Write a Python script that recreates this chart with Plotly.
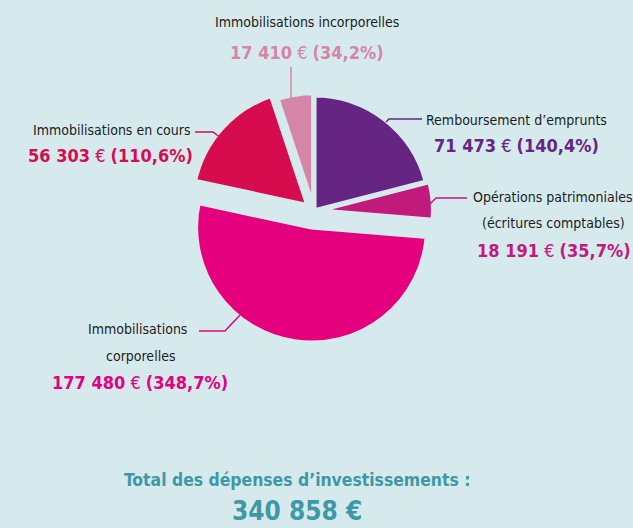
import plotly.graph_objects as go

# ---- data ----
categories = [
    "Remboursement d’emprunts",
    "Opérations patrimoniales (écritures comptables)",
    "Immobilisations corporelles",
    "Immobilisations en cours",
    "Immobilisations incorporelles",
]
values = [71473, 18191, 177480, 56303, 17410]
value_labels = ["71 473", "18 191", "177 480", "56 303", "17 410"]
pct_labels = ["140,4%", "35,7%", "348,7%", "110,6%", "34,2%"]
total_label = "340 858 €"
colors = ["#662483", "#c2197c", "#e5007e", "#d60c4f", "#d585a5"]
pulls = [0.0, 0.03, 0.14, 0.07, 0.02]

W, H = 633, 528
BG = "#d6eaee"
TXT = "#1d1d1b"
TEAL = "#3e98a6"
FONT = "DejaVu Sans Condensed, DejaVu Sans, sans-serif"
LBL = 14
VAL = 18


def px(x):
    return x / W


def py(y):
    return 1 - y / H


# pie geometry (pixels)
cx, cy, r = 314, 211, 116
half = r * (1 + max(pulls))

fig = go.Figure(
    go.Pie(
        labels=categories,
        values=values,
        sort=False,
        direction="clockwise",
        rotation=0,
        pull=pulls,
        marker=dict(colors=colors, line=dict(color=BG, width=5)),
        textinfo="none",
        hoverinfo="label+value",
        showlegend=False,
        domain=dict(
            x=[px(cx - half), px(cx + half)],
            y=[py(cy + half), py(cy - half)],
        ),
    )
)

annotations = []


def add_text(x, y, text, size, color, xanchor="center"):
    annotations.append(
        dict(
            x=px(x), y=py(y), xref="paper", yref="paper",
            text=text, showarrow=False,
            xanchor=xanchor, yanchor="middle",
            font=dict(family=FONT, size=size, color=color),
        )
    )


def val_text(i):
    return f"<b>{value_labels[i]}</b> € <b>({pct_labels[i]})</b>"


# Remboursement d'emprunts
add_text(516, 120, "Remboursement d’emprunts", LBL, TXT)
add_text(516, 145, val_text(0), VAL, colors[0])
# Opérations patrimoniales
add_text(553, 197, "Opérations patrimoniales", LBL, TXT)
add_text(553, 223, "(écritures comptables)", LBL, TXT)
add_text(554, 250, val_text(1), VAL, colors[1])
# Immobilisations corporelles
add_text(137, 329, "Immobilisations", LBL, TXT)
add_text(140, 356, "corporelles", LBL, TXT)
add_text(140, 382, val_text(2), VAL, colors[2])
# Immobilisations en cours
add_text(193, 130, "Immobilisations en cours", LBL, TXT, xanchor="right")
add_text(195, 156, val_text(3), VAL, colors[3], xanchor="right")
# Immobilisations incorporelles
add_text(307, 22, "Immobilisations incorporelles", LBL, TXT)
add_text(307, 52, val_text(4), VAL, colors[4])
# Total
add_text(297, 480, "<b>Total des dépenses d’investissements :</b>", 17.4, TEAL)
add_text(297, 511, f"<b>{total_label}</b>", 26, TEAL)


def leader(points, color):
    path = "M " + " L ".join(f"{px(x)},{py(y)}" for x, y in points)
    return dict(type="path", xref="paper", yref="paper", path=path,
                line=dict(color=color, width=1.5))


shapes = [
    leader([(386, 122), (389, 119), (422, 119)], colors[0]),
    leader([(430, 204), (436, 198), (467, 198)], colors[1]),
    leader([(240, 315), (225, 331), (199, 331)], colors[2]),
    leader([(221, 138), (213, 132), (195, 132)], colors[3]),
    leader([(291, 99), (291, 67)], colors[4]),
]

fig.update_layout(
    width=W, height=H,
    margin=dict(l=0, r=0, t=0, b=0),
    paper_bgcolor=BG, plot_bgcolor=BG,
    annotations=annotations,
    shapes=shapes,
    font=dict(family=FONT),
)

fig.write_html(
    "out.html",
    config={"displayModeBar": False},
    post_script="document.body.style.margin='0';document.body.style.overflow='hidden';",
)
